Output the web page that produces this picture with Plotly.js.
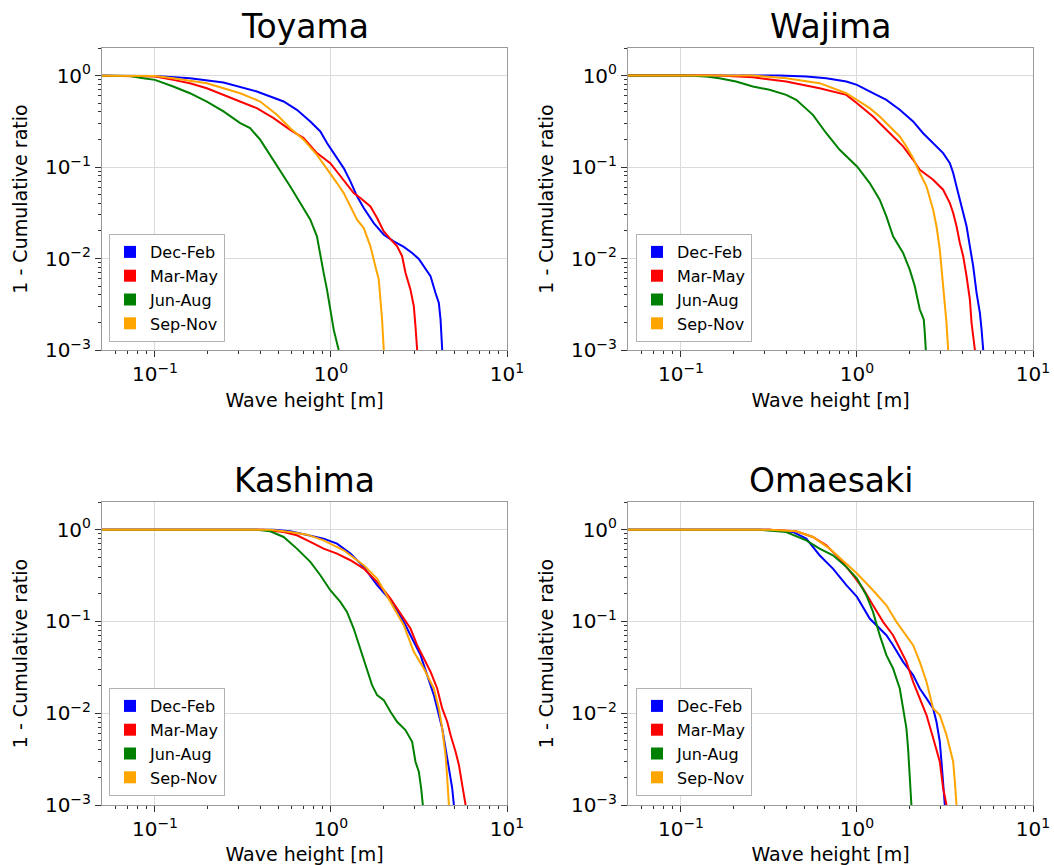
<!DOCTYPE html>
<html><head><meta charset="utf-8">
<script src="https://cdn.plot.ly/plotly-3.0.1.min.js"></script>
<style>html,body{margin:0;padding:0;background:#fff}</style>
</head><body><div id="chart" style="width:1054px;height:865px"></div>
<script>
const stations = ['Toyama', 'Wajima', 'Kashima', 'Omaesaki'];
const seasons = ['Dec-Feb', 'Mar-May', 'Jun-Aug', 'Sep-Nov'];
const seasonColors = ['#0000ff', '#ff0000', '#008000', '#ffa500'];

const xTickVals = [0.1, 1, 10];
const xTickText = ['10<sup>−1</sup>', '10<sup>0</sup>', '10<sup>1</sup>'];
const yTickVals = [0.001, 0.01, 0.1, 1];
const yTickText = ['10<sup>−3</sup>', '10<sup>−2</sup>', '10<sup>−1</sup>', '10<sup>0</sup>'];
const xMinorVals = [0.06, 0.07, 0.08, 0.09, 0.2, 0.3, 0.4, 0.5, 0.6, 0.7, 0.8, 0.9, 2, 3, 4, 5, 6, 7, 8, 9];
const yMinorVals = [0.002, 0.003, 0.004, 0.005, 0.006, 0.007, 0.008, 0.009, 0.02, 0.03, 0.04, 0.05, 0.06, 0.07, 0.08, 0.09, 0.2, 0.3, 0.4, 0.5, 0.6, 0.7, 0.8, 0.9, 2];

// Toyama
const toyamaDecFebH = [0.04, 0.1, 0.158, 0.245, 0.379, 0.538, 0.640, 0.763, 0.870, 0.949, 1.036, 1.181, 1.289, 1.406, 1.535, 1.750, 1.995, 2.274, 2.592, 2.891, 3.155, 3.369, 3.677, 3.926, 4.10, 4.193, 4.285];
const toyamaDecFebP = [1, 0.99, 0.935, 0.839, 0.669, 0.520, 0.422, 0.315, 0.245, 0.183, 0.142, 0.0973, 0.0697, 0.0478, 0.0356, 0.0244, 0.0182, 0.0154, 0.0134, 0.0115, 0.0099, 0.0082, 0.0064, 0.0042, 0.00327, 0.00215, 0.001];
const toyamaMarMayH = [0.04, 0.1, 0.127, 0.158, 0.197, 0.245, 0.305, 0.379, 0.472, 0.587, 0.699, 0.832, 0.991, 1.181, 1.346, 1.469, 1.675, 1.828, 1.995, 2.177, 2.375, 2.536, 2.650, 2.829, 2.955, 3.020, 3.087];
const toyamaMarMayP = [1, 0.975, 0.897, 0.825, 0.727, 0.615, 0.520, 0.440, 0.342, 0.255, 0.207, 0.142, 0.110, 0.0726, 0.0519, 0.0458, 0.0371, 0.0277, 0.0198, 0.0163, 0.0136, 0.0106, 0.0070, 0.00457, 0.00301, 0.00182, 0.001];
const toyamaJunAugH = [0.04, 0.0721, 0.0858, 0.1, 0.127, 0.158, 0.197, 0.245, 0.305, 0.347, 0.396, 0.451, 0.515, 0.587, 0.669, 0.763, 0.832, 0.870, 0.908, 0.949, 0.991, 1.036, 1.106];
const toyamaJunAugP = [1, 0.99, 0.935, 0.897, 0.759, 0.641, 0.520, 0.405, 0.302, 0.266, 0.199, 0.136, 0.0895, 0.0614, 0.0404, 0.0266, 0.0175, 0.0106, 0.0070, 0.00457, 0.00277, 0.00167, 0.001];
const toyamaSepNovH = [0.04, 0.1, 0.127, 0.158, 0.197, 0.245, 0.305, 0.396, 0.493, 0.587, 0.699, 0.832, 0.991, 1.082, 1.181, 1.289, 1.406, 1.535, 1.675, 1.788, 1.868, 1.909, 1.951, 1.995];
const toyamaSepNovP = [1, 0.99, 0.935, 0.882, 0.825, 0.727, 0.641, 0.520, 0.372, 0.266, 0.199, 0.136, 0.086, 0.0668, 0.0519, 0.0371, 0.0266, 0.0215, 0.0136, 0.0082, 0.0059, 0.00356, 0.00215, 0.001];

// Wajima
const wajimaDecFebH = [0.04, 0.363, 0.515, 0.669, 0.870, 1.0, 1.233, 1.469, 1.750, 2.084, 2.375, 2.708, 3.087, 3.369, 3.520, 3.677, 3.841, 4.012, 4.193, 4.379, 4.575, 4.779, 4.992, 5.103, 5.215];
const wajimaDecFebP = [1, 0.998, 0.975, 0.935, 0.860, 0.791, 0.641, 0.542, 0.422, 0.315, 0.234, 0.1825, 0.142, 0.110, 0.086, 0.0614, 0.0439, 0.0314, 0.0225, 0.0136, 0.0082, 0.0042, 0.00254, 0.00167, 0.001];
const wajimaMarMayH = [0.04, 0.165, 0.256, 0.396, 0.613, 0.870, 1.0, 1.233, 1.406, 1.603, 1.828, 2.084, 2.274, 2.482, 2.708, 3.087, 3.369, 3.520, 3.677, 3.841, 4.012, 4.193, 4.379, 4.477, 4.676];
const wajimaMarMayP = [1, 0.998, 0.959, 0.860, 0.727, 0.615, 0.499, 0.357, 0.277, 0.216, 0.168, 0.120, 0.0934, 0.0823, 0.0726, 0.0565, 0.0404, 0.0314, 0.0225, 0.0148, 0.0106, 0.0064, 0.00356, 0.00198, 0.001];
const wajimaJunAugH = [0.04, 0.1068, 0.1388, 0.165, 0.2056, 0.256, 0.3184, 0.396, 0.4516, 0.5617, 0.669, 0.797, 1.0, 1.181, 1.346, 1.469, 1.603, 1.828, 1.994, 2.129, 2.274, 2.396, 2.428, 2.460];
const wajimaJunAugP = [1, 0.998, 0.975, 0.935, 0.860, 0.759, 0.698, 0.615, 0.542, 0.372, 0.234, 0.1543, 0.1015, 0.0668, 0.0439, 0.0289, 0.0175, 0.0115, 0.00756, 0.0050, 0.00277, 0.00215, 0.00154, 0.001];
const wajimaSepNovH = [0.04, 0.256, 0.396, 0.613, 0.870, 1.0, 1.181, 1.346, 1.535, 1.750, 1.909, 2.084, 2.274, 2.482, 2.708, 2.829, 2.955, 3.020, 3.155, 3.225, 3.296];
const wajimaSepNovP = [1, 0.998, 0.935, 0.825, 0.641, 0.542, 0.440, 0.357, 0.277, 0.216, 0.168, 0.125, 0.086, 0.0614, 0.0342, 0.0225, 0.0125, 0.0082, 0.00356, 0.00198, 0.001];

// Kashima
const kashimaDecFebH = [0.04, 0.472, 0.587, 0.730, 0.908, 1.082, 1.289, 1.535, 1.828, 2.177, 2.592, 2.829, 3.225, 3.520, 3.841, 4.101, 4.284, 4.477, 4.676, 4.884, 4.992];
const kashimaDecFebP = [1, 0.998, 0.959, 0.868, 0.798, 0.704, 0.548, 0.393, 0.248, 0.170, 0.0989, 0.0708, 0.0429, 0.0260, 0.01575, 0.00954, 0.00683, 0.00414, 0.00251, 0.00152, 0.001];
const kashimaMarMayH = [0.04, 0.414, 0.538, 0.640, 0.763, 0.908, 1.082, 1.289, 1.535, 1.828, 2.177, 2.592, 2.829, 3.087, 3.369, 3.677, 4.012, 4.284, 4.575, 4.779, 5.103, 5.331, 5.568, 5.817];
const kashimaMarMayP = [1, 0.998, 0.943, 0.868, 0.734, 0.621, 0.548, 0.464, 0.376, 0.2695, 0.1775, 0.1075, 0.0837, 0.0551, 0.0395, 0.0283, 0.0186, 0.01128, 0.00807, 0.00578, 0.00381, 0.00273, 0.00165, 0.001];
const kashimaJunAugH = [0.04, 0.379, 0.4516, 0.538, 0.640, 0.763, 0.870, 0.991, 1.130, 1.233, 1.346, 1.469, 1.603, 1.711, 1.828, 1.995, 2.177, 2.375, 2.649, 2.891, 3.020, 3.155, 3.253, 3.325];
const kashimaJunAugP = [1, 0.998, 0.959, 0.832, 0.621, 0.445, 0.3185, 0.2186, 0.163, 0.127, 0.0837, 0.0507, 0.0307, 0.0202, 0.01575, 0.0139, 0.01037, 0.00807, 0.00655, 0.00489, 0.00296, 0.00231, 0.00152, 0.001];
const kashimaSepNovH = [0.04, 0.4516, 0.587, 0.730, 0.908, 1.181, 1.535, 1.828, 2.177, 2.592, 2.955, 3.369, 3.841, 4.101, 4.284, 4.477, 4.575, 4.676];
const kashimaSepNovP = [1, 0.998, 0.943, 0.882, 0.765, 0.596, 0.409, 0.293, 0.163, 0.091, 0.0466, 0.0307, 0.0186, 0.01128, 0.00683, 0.0035, 0.00195, 0.001];

// Omaesaki
const omaesakiDecFebH = [0.04, 0.3184, 0.432, 0.515, 0.613, 0.730, 0.870, 1.0, 1.181, 1.346, 1.469, 1.603, 1.828, 2.084, 2.274, 2.482, 2.708, 2.829, 2.955, 3.020, 3.087, 3.155];
const omaesakiDecFebP = [1, 0.998, 0.943, 0.798, 0.526, 0.376, 0.248, 0.185, 0.1075, 0.0837, 0.0708, 0.0551, 0.0363, 0.0260, 0.0186, 0.0145, 0.01128, 0.00807, 0.00489, 0.00296, 0.00152, 0.001];
const omaesakiMarMayH = [0.04, 0.3184, 0.4516, 0.5617, 0.669, 0.797, 0.949, 1.082, 1.233, 1.406, 1.603, 1.750, 1.909, 2.084, 2.274, 2.482, 2.708, 2.955, 3.087, 3.225];
const omaesakiMarMayP = [1, 0.998, 0.959, 0.832, 0.675, 0.483, 0.3185, 0.228, 0.150, 0.0989, 0.0708, 0.0507, 0.0363, 0.0220, 0.0145, 0.00954, 0.00538, 0.00296, 0.00152, 0.001];
const omaesakiJunAugH = [0.04, 0.279, 0.396, 0.515, 0.613, 0.730, 0.870, 1.0, 1.130, 1.233, 1.346, 1.469, 1.603, 1.750, 1.828, 1.909, 1.951, 1.994, 2.038];
const omaesakiJunAugP = [1, 0.998, 0.943, 0.765, 0.621, 0.526, 0.393, 0.293, 0.193, 0.127, 0.0708, 0.0429, 0.0307, 0.0186, 0.01128, 0.00683, 0.00414, 0.00231, 0.001];
const omaesakiSepNovH = [0.04, 0.3184, 0.4516, 0.5617, 0.699, 0.870, 1.0, 1.233, 1.469, 1.675, 1.909, 2.084, 2.274, 2.482, 2.708, 2.955, 3.225, 3.369, 3.520, 3.597, 3.677];
const omaesakiSepNovP = [1, 0.998, 0.959, 0.832, 0.621, 0.4266, 0.332, 0.2186, 0.150, 0.0989, 0.0708, 0.0551, 0.0363, 0.0220, 0.01128, 0.00954, 0.00578, 0.00414, 0.00296, 0.0018, 0.001];

const stationSeries = [
  [[toyamaDecFebH, toyamaDecFebP], [toyamaMarMayH, toyamaMarMayP], [toyamaJunAugH, toyamaJunAugP], [toyamaSepNovH, toyamaSepNovP]],
  [[wajimaDecFebH, wajimaDecFebP], [wajimaMarMayH, wajimaMarMayP], [wajimaJunAugH, wajimaJunAugP], [wajimaSepNovH, wajimaSepNovP]],
  [[kashimaDecFebH, kashimaDecFebP], [kashimaMarMayH, kashimaMarMayP], [kashimaJunAugH, kashimaJunAugP], [kashimaSepNovH, kashimaSepNovP]],
  [[omaesakiDecFebH, omaesakiDecFebP], [omaesakiMarMayH, omaesakiMarMayP], [omaesakiJunAugH, omaesakiJunAugP], [omaesakiSepNovH, omaesakiSepNovP]]
];

const FONT = 'DejaVu Sans';
const traces = [];
const legendIds = ['legend', 'legend2', 'legend3', 'legend4'];
stationSeries.forEach((series, si) => {
  const sfx = si === 0 ? '' : String(si + 1);
  series.forEach((s, k) => {
    traces.push({
      type: 'scatter', mode: 'lines', x: s[0], y: s[1],
      xaxis: 'x' + sfx, yaxis: 'y' + sfx,
      line: {color: seasonColors[k], width: 2},
      name: seasons[k], showlegend: false, hoverinfo: 'x+y+name'
    });
  });
  series.forEach((s, k) => {
    traces.push({
      type: 'bar', x: [null], y: [null],
      xaxis: 'x' + sfx, yaxis: 'y' + sfx,
      marker: {color: seasonColors[k]},
      name: seasons[k], showlegend: true, legend: legendIds[si]
    });
  });
});

const W = 1054, H = 865;
const M = {l: 102, r: 21, t: 48, b: 60};
const pw = W - M.l - M.r, ph = H - M.t - M.b;
const colPx = [[102, 507], [628, 1033]];
const rowPx = [[48, 350], [502, 805]];
function xd(c) { return [(colPx[c][0] - M.l) / pw, (colPx[c][1] - M.l) / pw]; }
function yd(r) { return [(H - M.b - rowPx[r][1]) / ph, (H - M.b - rowPx[r][0]) / ph]; }

function xAxis(c, anchor) {
  return {
    type: 'log', range: [Math.log10(0.05), 1], domain: xd(c), anchor: anchor,
    tickmode: 'array', tickvals: xTickVals, ticktext: xTickText,
    ticks: 'outside', ticklen: 6, tickwidth: 1, tickcolor: '#333',
    showline: true, mirror: true, linecolor: '#9a9a9a', linewidth: 1,
    showgrid: true, gridcolor: '#dadada', gridwidth: 1, zeroline: false,
    tickfont: {family: FONT, size: 20, color: '#000'},
    minor: {tickmode: 'array', tickvals: xMinorVals, ticks: 'outside', ticklen: 3, tickwidth: 1, tickcolor: '#333', showgrid: false},
    title: {text: 'Wave height [m]', font: {family: FONT, size: 19, color: '#000'}, standoff: 8},
    fixedrange: true
  };
}
function yAxis(r, anchor) {
  return {
    type: 'log', range: [-3, Math.log10(2)], domain: yd(r), anchor: anchor,
    tickmode: 'array', tickvals: yTickVals, ticktext: yTickText,
    ticks: 'outside', ticklen: 6, tickwidth: 1, tickcolor: '#333',
    showline: true, mirror: true, linecolor: '#9a9a9a', linewidth: 1,
    showgrid: true, gridcolor: '#dadada', gridwidth: 1, zeroline: false,
    tickfont: {family: FONT, size: 20, color: '#000'},
    minor: {tickmode: 'array', tickvals: yMinorVals, ticks: 'outside', ticklen: 3, tickwidth: 1, tickcolor: '#333', showgrid: false},
    title: {text: '1 - Cumulative ratio', font: {family: FONT, size: 19, color: '#000'}, standoff: 12},
    fixedrange: true
  };
}

function legendAt(px, py) {
  return {
    x: (px - M.l) / pw, y: (H - M.b - py) / ph, xanchor: 'left', yanchor: 'bottom',
    bgcolor: '#ffffff', bordercolor: '#b3b3b3', borderwidth: 1,
    font: {family: FONT, size: 16, color: '#000'}, tracegroupgap: 0
  };
}

const annotations = stations.map((name, si) => {
  const sfx = si === 0 ? '' : String(si + 1);
  return {
    text: name, showarrow: false, xref: 'x' + sfx + ' domain', yref: 'y' + sfx + ' domain',
    x: 0.5, y: 1, xanchor: 'center', yanchor: 'bottom', yshift: 0,
    font: {family: FONT, size: 33, color: '#000'}
  };
});

const layout = {
  width: W, height: H, margin: M, paper_bgcolor: '#ffffff', plot_bgcolor: '#ffffff',
  font: {family: FONT, color: '#000'},
  barmode: 'overlay',
  xaxis: xAxis(0, 'y'), yaxis: yAxis(0, 'x'),
  xaxis2: xAxis(1, 'y2'), yaxis2: yAxis(0, 'x2'),
  xaxis3: xAxis(0, 'y3'), yaxis3: yAxis(1, 'x3'),
  xaxis4: xAxis(1, 'y4'), yaxis4: yAxis(1, 'x4'),
  legend: legendAt(109, 342),
  legend2: legendAt(636, 342),
  legend3: legendAt(109, 796),
  legend4: legendAt(636, 796),
  annotations: annotations
};

Plotly.newPlot('chart', traces, layout, {displayModeBar: false, staticPlot: true});
</script>
</body></html>
